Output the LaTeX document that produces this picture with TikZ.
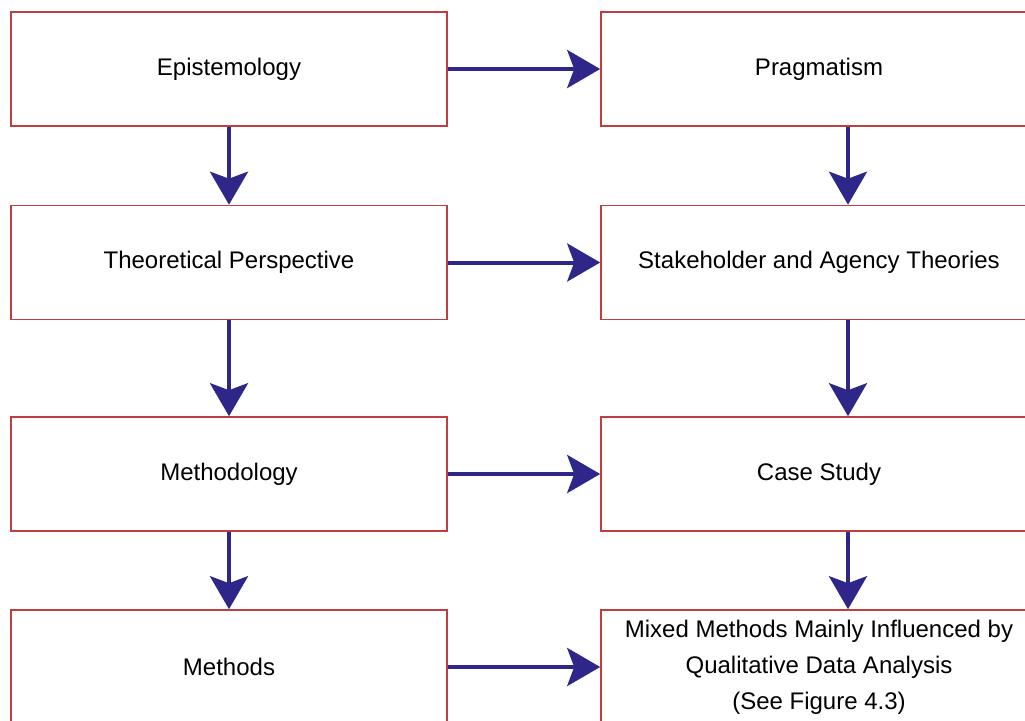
\documentclass[tikz,border=0pt]{standalone}
\usepackage{fontspec}
\setmainfont{Liberation Sans}
\usetikzlibrary{arrows.meta}

\definecolor{boxred}{RGB}{192,62,64}
\definecolor{arrowblue}{RGB}{46,38,136}

\tikzset{
  stage/.style={draw=boxred,line width=1.6pt,fill=white,minimum width=436pt,minimum height=114pt,
    inner sep=0pt,align=center,font=\fontsize{24}{36}\selectfont},
  flow/.style={arrowblue,line width=4pt,-{Stealth[length=33pt,width=38pt,inset=7pt]}}
}

\begin{document}
\begin{tikzpicture}[x=1pt,y=-1pt]
\useasboundingbox (0,0) rectangle (1025,720);
\clip (0,0) rectangle (1025,720);
\fill[white] (0,0) rectangle (1025,720);

\node[stage] (epist) at (229,69) {Epistemology};
\node[stage] (theory) at (229,262.5) {Theoretical Perspective};
\node[stage] (method) at (229,474) {Methodology};
\node[stage] (methods) at (229,667) {Methods};

\node[stage] (pragma) at (819,69) {Pragmatism};
\node[stage] (stake) at (819,262.5) {Stakeholder and Agency Theories};
\node[stage] (case) at (819,474) {Case Study};
\node[stage] (mixed) at (819,667) {Mixed Methods Mainly Influenced by\\Qualitative Data Analysis\\(See Figure 4.3)};

\draw[flow] (epist) -- (pragma);
\draw[flow] (theory) -- (stake);
\draw[flow] (method) -- (case);
\draw[flow] (methods) -- (mixed);

\draw[flow] (epist) -- (theory);
\draw[flow] (theory) -- (method);
\draw[flow] (method) -- (methods);

\draw[flow] (pragma.south -| 848,0) -- (stake.north -| 848,0);
\draw[flow] (stake.south -| 848,0) -- (case.north -| 848,0);
\draw[flow] (case.south -| 848,0) -- (mixed.north -| 848,0);
\end{tikzpicture}
\end{document}
